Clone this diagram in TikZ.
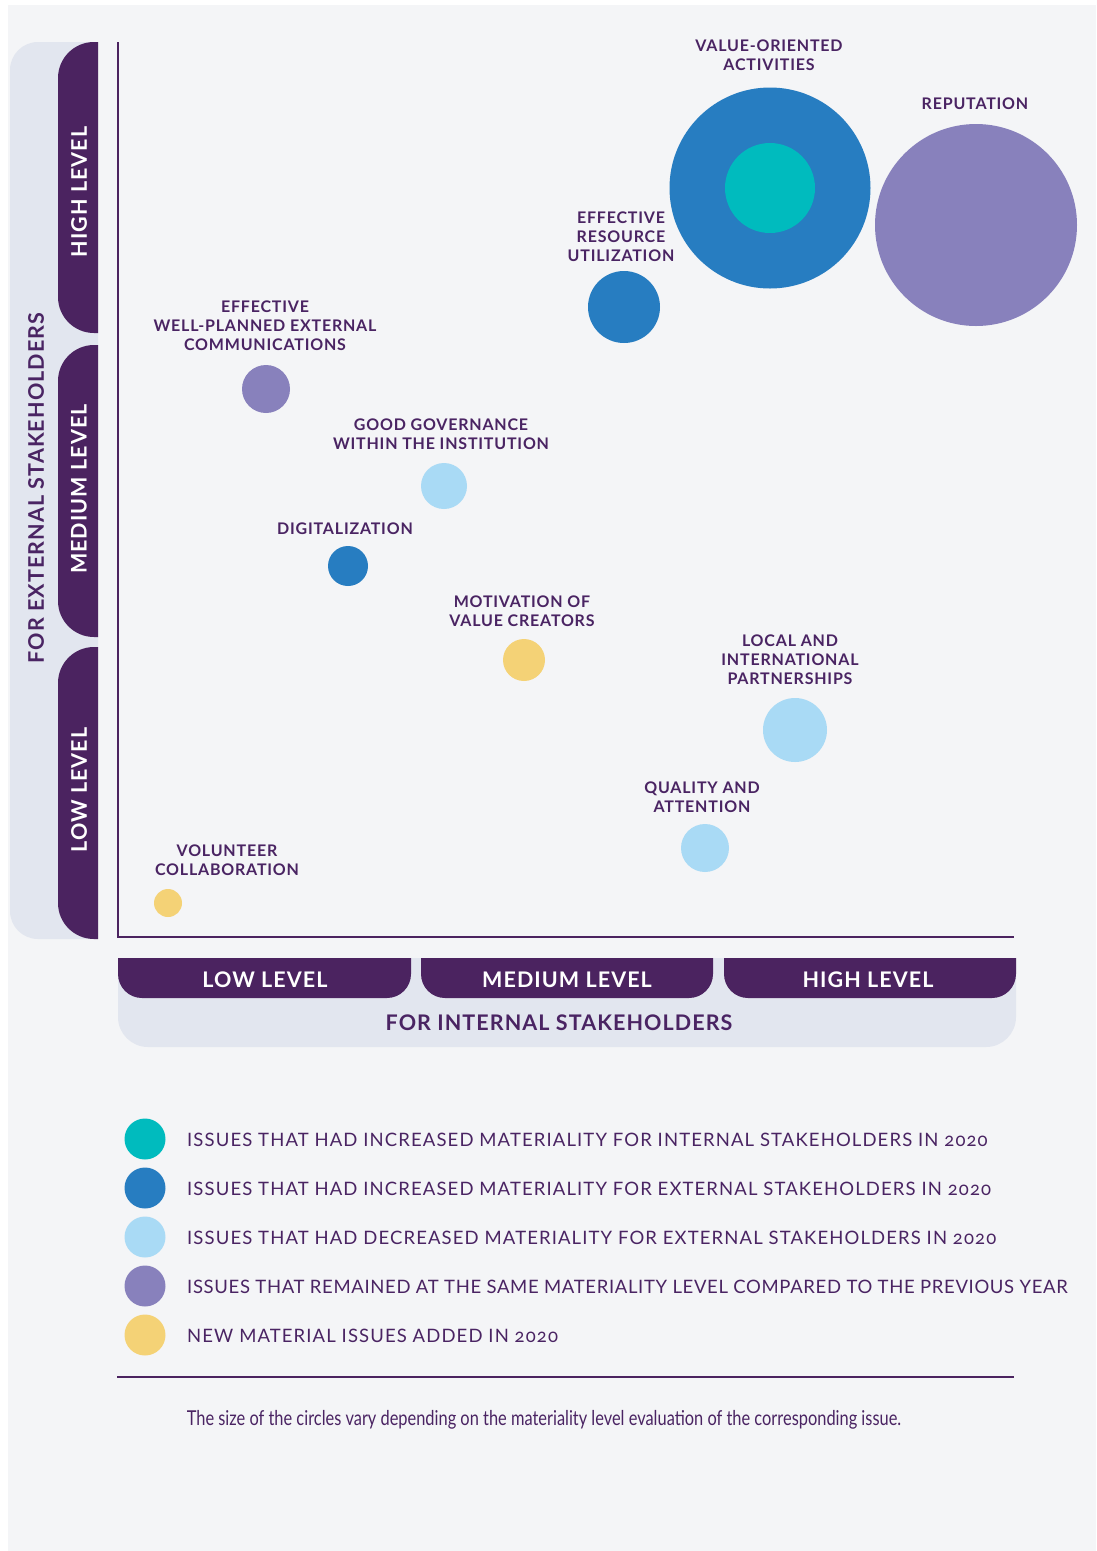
\documentclass[tikz,border=0pt]{standalone}
\usepackage{fontspec}
\setmainfont{Lato}
\newfontfamily\spaced{Lato}[LetterSpace=5]
\newfontfamily\legfont{Lato}[LetterSpace=6, Numbers=OldStyle]
\newfontfamily\legfontb{Lato}[LetterSpace=3.5, Numbers=OldStyle]
\newfontfamily\condfont{Lato}[FakeStretch=0.8]
\definecolor{purp}{HTML}{4B2360}
\definecolor{txtp}{HTML}{4A2463}
\definecolor{bgc}{HTML}{F4F5F7}
\definecolor{panel}{HTML}{E2E6EF}
\definecolor{cteal}{HTML}{00BBBE}
\definecolor{cblue}{HTML}{277DC1}
\definecolor{clight}{HTML}{A9DAF5}
\definecolor{clav}{HTML}{8881BC}
\definecolor{cyel}{HTML}{F4D276}
\tikzset{
  lbl/.style={font=\spaced\bfseries\fontsize{16}{19}\selectfont, text=txtp, align=center, inner sep=0},
  tabtxt/.style={font=\spaced\bfseries\fontsize{21.5}{24}\selectfont, text=white, inner sep=0},
  axtxt/.style={font=\spaced\bfseries\fontsize{21.5}{24}\selectfont, text=txtp, inner sep=0},
  legtxt/.style={font=\legfont\fontsize{18.5}{20}\selectfont, text=txtp, anchor=west, inner sep=0},
  legtxtb/.style={font=\legfontb\fontsize{18.5}{20}\selectfont, text=txtp, anchor=west, inner sep=0},
  bubble/.style={circle, inner sep=0, draw=none},
}
\begin{document}
\begin{tikzpicture}[x=1pt,y=-1pt]
\useasboundingbox (0,0) rectangle (1096,1551);
\fill[white] (0,0) rectangle (1096,1551);
\fill[bgc] (8,5) rectangle (1096,1551);
% left panel
\begin{scope}
\clip (0,0) rectangle (98,1000);
\fill[panel, rounded corners=28] (10,42) rectangle (140,939);
\end{scope}
\foreach \a/\b in {42/333, 345/637, 647/939}{
  \begin{scope}
  \clip (58,0) rectangle (98,1000);
  \fill[purp, rounded corners=36] (58,\a) rectangle (140,\b);
  \end{scope}
}
% bottom panel
\begin{scope}
\clip (0,958) rectangle (1096,1100);
\fill[panel, rounded corners=30] (118,900) rectangle (1016,1047);
\end{scope}
\foreach \a/\b in {118/411, 421/713, 724/1016}{
  \begin{scope}
  \clip (0,958) rectangle (1096,998);
  \fill[purp, rounded corners=24] (\a,900) rectangle (\b,998);
  \end{scope}
}
% axes
\draw[purp, line width=2.2] (118,42) -- (118,937) -- (1014,937);
% axis texts
\node[tabtxt, rotate=90] (yh) at (79,192) {HIGH LEVEL};
\node[tabtxt, rotate=90] (ym) at (79,489) {MEDIUM LEVEL};
\node[tabtxt, rotate=90] (yl) at (79,790) {LOW LEVEL};
\node[axtxt, rotate=90] (yt) at (36,488) {FOR EXTERNAL STAKEHOLDERS};
\node[tabtxt] (xl) at (265,980) {LOW LEVEL};
\node[tabtxt] (xm) at (567,980) {MEDIUM LEVEL};
\node[tabtxt] (xh) at (868,980) {HIGH LEVEL};
\node[axtxt] (xt) at (559,1023) {FOR INTERNAL STAKEHOLDERS};
% bubbles
\node[bubble, fill=cblue, minimum size=201] (voa) at (770,188) {};
\node[bubble, fill=cteal, minimum size=90] (voai) at (770,188) {};
\node[bubble, fill=clav, minimum size=202] (rep) at (976,225) {};
\node[bubble, fill=cblue, minimum size=72] (eru) at (624,307) {};
\node[bubble, fill=clav, minimum size=48] (ewp) at (266,389) {};
\node[bubble, fill=clight, minimum size=46] (ggi) at (444,486) {};
\node[bubble, fill=cblue, minimum size=40] (dig) at (348,566) {};
\node[bubble, fill=cyel, minimum size=42] (mvc) at (524,660) {};
\node[bubble, fill=clight, minimum size=64] (lip) at (795,730) {};
\node[bubble, fill=clight, minimum size=48] (qa) at (705,848) {};
\node[bubble, fill=cyel, minimum size=28] (vc) at (168,903) {};
% labels
\node[lbl] (tvoa) at (769,55) {VALUE-ORIENTED\\ACTIVITIES};
\node[lbl] (trep) at (975,104) {REPUTATION};
\node[lbl] (teru) at (621,237) {EFFECTIVE\\RESOURCE\\UTILIZATION};
\node[lbl] (tewp) at (265,326) {EFFECTIVE\\WELL-PLANNED EXTERNAL\\COMMUNICATIONS};
\node[lbl] (tggi) at (441,434) {GOOD GOVERNANCE\\WITHIN THE INSTITUTION};
\node[lbl] (tdig) at (345,529) {DIGITALIZATION};
\node[lbl] (tmvc) at (522,611) {MOTIVATION OF\\VALUE CREATORS};
\node[lbl] (tlip) at (790,660) {LOCAL AND\\INTERNATIONAL\\PARTNERSHIPS};
\node[lbl] (tqa) at (702,797) {QUALITY AND\\ATTENTION};
\node[lbl] (tvc) at (227,860) {VOLUNTEER\\COLLABORATION};
% legend
\node[bubble, fill=cteal, minimum size=41] (k1) at (145,1139) {};
\node[bubble, fill=cblue, minimum size=41] (k2) at (145,1188) {};
\node[bubble, fill=clight, minimum size=41] (k3) at (145,1237) {};
\node[bubble, fill=clav, minimum size=41] (k4) at (145,1286) {};
\node[bubble, fill=cyel, minimum size=41] (k5) at (145,1335) {};
\node[legtxt] (g1) at (187,1140) {ISSUES THAT HAD INCREASED MATERIALITY FOR INTERNAL STAKEHOLDERS IN 2020};
\node[legtxt] (g2) at (187,1189) {ISSUES THAT HAD INCREASED MATERIALITY FOR EXTERNAL STAKEHOLDERS IN 2020};
\node[legtxt] (g3) at (187,1238) {ISSUES THAT HAD DECREASED MATERIALITY FOR EXTERNAL STAKEHOLDERS IN 2020};
\node[legtxtb] (g4) at (187,1287) {ISSUES THAT REMAINED AT THE SAME MATERIALITY LEVEL COMPARED TO THE PREVIOUS YEAR};
\node[legtxt] (g5) at (187,1336) {NEW MATERIAL ISSUES ADDED IN 2020};
\draw[purp, line width=2.5] (117,1377) -- (1014,1377);
\node[text=txtp, inner sep=0, font=\condfont\fontsize{20.5}{22}\selectfont] (foot) at (544,1420) {The size of the circles vary depending on the materiality level evaluation of the corresponding issue.};
\end{tikzpicture}
\end{document}
